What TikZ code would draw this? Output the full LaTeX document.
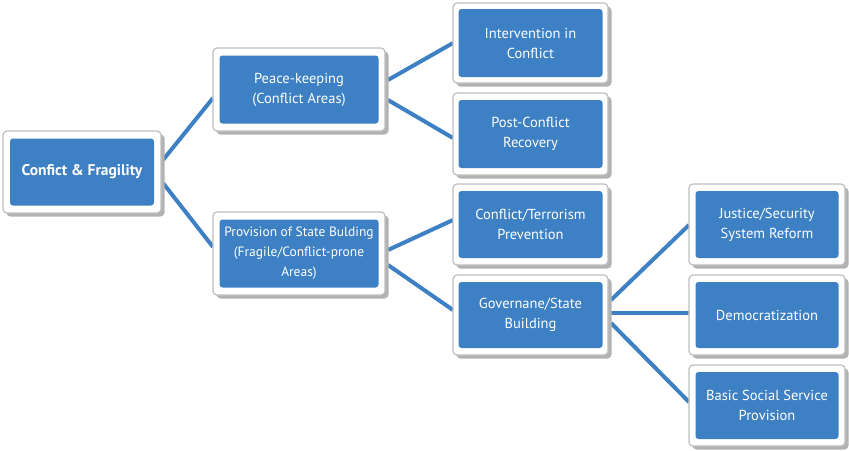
\documentclass[tikz,border=0pt]{standalone}
\usepackage{fontspec}
\setmainfont{PT Sans}
\usetikzlibrary{calc,shadows,backgrounds}
\definecolor{boxblue}{HTML}{3D80C3}
\definecolor{frameg}{HTML}{BEBEBE}
\definecolor{shadowg}{HTML}{B2B2B2}
\tikzset{
  frame/.style={draw=frameg, line width=1.2pt, fill=white, rounded corners=4pt,
    drop shadow={shadow xshift=3.5pt, shadow yshift=-3.5pt, fill=shadowg, opacity=1},
    inner sep=0pt, outer sep=0pt},
  inbox/.style={fill=boxblue, rounded corners=3pt, text=white, align=center,
    inner sep=0pt, outer sep=0pt, font=\fontsize{14.5}{20}\selectfont},
  smalltext/.style={font=\fontsize{13.5}{20}\selectfont},
  boldtext/.style={font=\bfseries\fontsize{15.5}{20}\selectfont},
  link/.style={draw=boxblue, line width=4pt}
}
\newcommand{\mybox}[9]{%
  % #1 name, #2 x1, #3 y1, #4 x2, #5 y2 (outer), #6 inset x, #7 inset y, #8 extra style, #9 text
  \node[frame, minimum width={(#4-#2)*1pt}, minimum height={(#5-#3)*1pt}]
    (#1) at ({(#2+#4)/2},{(#3+#5)/2}) {};
  \node[inbox, #8, minimum width={(#4-#2-2*#6)*1pt}, minimum height={(#5-#3-2*#7)*1pt}]
    (#1in) at ({(#2+#4)/2},{(#3+#5)/2}) {#9};
}
\begin{document}
\begin{tikzpicture}[x=1pt,y=-1pt]
\useasboundingbox (0,0) rectangle (849,450);
\mybox{A}{3}{131}{161}{213}{7}{7.5}{boldtext}{Confict \& Fragility}
\mybox{B}{213}{48}{385}{131}{6.5}{7.5}{}{Peace-keeping\\(Conflict Areas)}
\mybox{C}{213}{212}{385}{295}{6.5}{7.5}{smalltext}{Provision of State Bulding\\(Fragile/Conflict-prone\\Areas)}
\mybox{D}{453}{3}{608}{83}{5.5}{6}{}{Intervention in\\Conflict}
\mybox{E}{453}{93}{608}{175}{5.5}{7}{}{Post-Conflict\\Recovery}
\mybox{F}{453}{184}{608}{265}{5.5}{7}{}{Conflict/Terrorism\\Prevention}
\mybox{G}{453}{275}{608}{355}{5.5}{7}{}{Governane/State\\Building}
\mybox{H}{689}{184}{845}{265}{6.5}{7}{}{Justice/Security\\System Reform}
\mybox{I}{689}{275}{845}{355}{6.5}{7}{}{Democratization}
\mybox{J}{689}{365}{845}{446}{6.5}{7}{}{Basic Social Service\\Provision}
\begin{scope}[on background layer]
\draw[link] ($(A.east)+(2,-12)$) -- ($(B.west)+(0,8.5)$);
\draw[link] ($(A.east)+(2,11)$) -- ($(C.west)+(0,-6.5)$);
\draw[link] ($(B.east)+(3,-9.5)$) -- ($(D.west)+(0,0)$);
\draw[link] ($(B.east)+(3,10.5)$) -- ($(E.west)+(0,4)$);
\draw[link] ($(C.east)+(3,-3.5)$) -- ($(F.west)+(0,-4.5)$);
\draw[link] ($(C.east)+(3,11.5)$) -- ($(G.west)+(0,-5)$);
\draw[link] ($(G.east)+(3,-15)$) -- ($(H.west)+(0,0.5)$);
\draw[link] ($(G.east)+(3,-2)$) -- ($(I.west)+(0,-2)$);
\draw[link] ($(G.east)+(3,8)$) -- ($(J.west)+(0,-3.5)$);
\end{scope}
\end{tikzpicture}
\end{document}
